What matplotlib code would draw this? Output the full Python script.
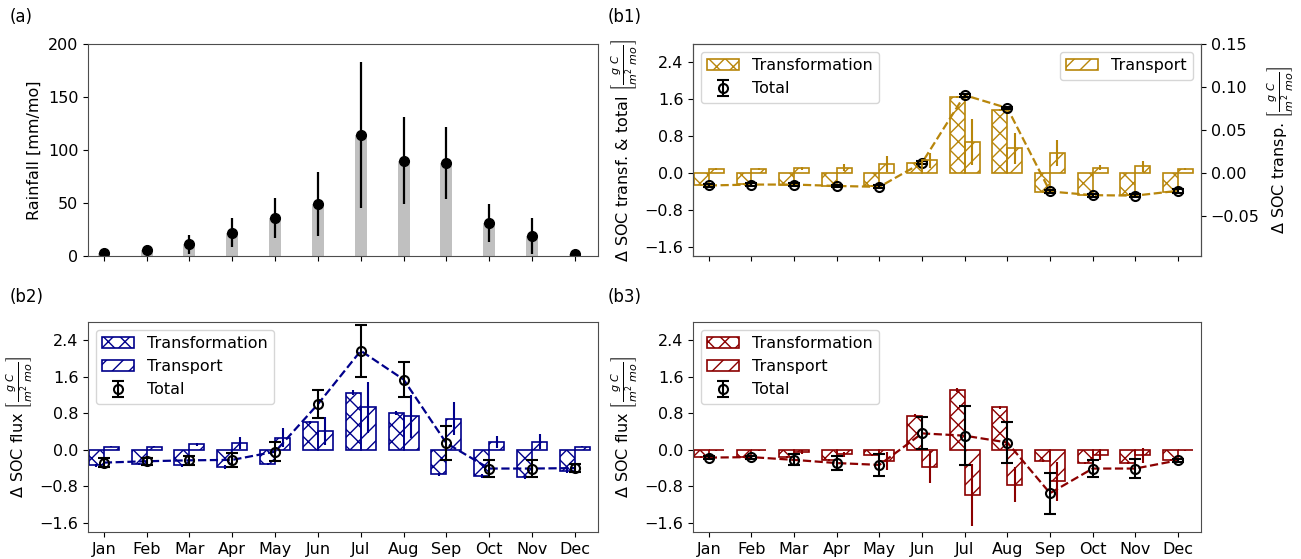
import numpy as np
import matplotlib
matplotlib.use("Agg")
import matplotlib.pyplot as plt

plt.rcParams['font.size'] = 11.5
plt.rcParams['axes.edgecolor'] = '0.3'

months = ["Jan", "Feb", "Mar", "Apr", "May", "Jun", "Jul", "Aug", "Sep", "Oct", "Nov", "Dec"]

# (a) rainfall, mean and std
rain_mean = [3, 6, 11, 22, 36, 49, 114, 90, 88, 31, 19, 2]
rain_std = [1, 4, 9, 13.5, 19, 30, 69, 41, 34, 18, 17, 1]

# (b1) left axis: transformation & total, right axis: transport
b1_transf = [-0.26, -0.24, -0.25, -0.28, -0.28, 0.22, 1.65, 1.37, -0.41, -0.48, -0.48, -0.41]
b1_transf_err = [0.02, 0.02, 0.02, 0.02, 0.02, 0.03, 0.03, 0.03, 0.02, 0.02, 0.02, 0.02]
b1_transp = [0.0047, 0.0043, 0.0054, 0.0062, 0.0105, 0.0147, 0.036, 0.029, 0.023, 0.0062, 0.0078, 0.0047]
b1_transp_err = [0.001, 0.001, 0.002, 0.004, 0.009, 0.009, 0.027, 0.018, 0.015, 0.003, 0.0065, 0.001]
b1_total = [-0.27, -0.25, -0.25, -0.28, -0.30, 0.225, 1.69, 1.41, -0.40, -0.48, -0.49, -0.385]
b1_total_err = [0.04, 0.04, 0.04, 0.03, 0.03, 0.03, 0.03, 0.03, 0.03, 0.03, 0.04, 0.04]

# (b2)
b2_transf = [-0.34, -0.31, -0.34, -0.38, -0.31, 0.60, 1.25, 0.81, -0.54, -0.58, -0.60, -0.46]
b2_transf_err = [0.04, 0.03, 0.04, 0.04, 0.03, 0.03, 0.05, 0.04, 0.04, 0.04, 0.04, 0.04]
b2_transp = [0.07, 0.065, 0.12, 0.15, 0.27, 0.41, 0.93, 0.74, 0.68, 0.17, 0.18, 0.07]
b2_transp_err = [0.01, 0.01, 0.04, 0.13, 0.2, 0.3, 0.56, 0.47, 0.36, 0.14, 0.16, 0.01]
b2_total = [-0.28, -0.25, -0.23, -0.22, -0.04, 1.00, 2.17, 1.54, 0.145, -0.41, -0.41, -0.40]
b2_total_err = [0.1, 0.08, 0.1, 0.15, 0.21, 0.3, 0.57, 0.39, 0.37, 0.18, 0.18, 0.09]

# (b3)
b3_transf = [-0.16, -0.16, -0.15, -0.22, -0.11, 0.75, 1.31, 0.93, -0.25, -0.29, -0.29, -0.22]
b3_transf_err = [0.02, 0.02, 0.02, 0.02, 0.02, 0.03, 0.04, 0.03, 0.02, 0.02, 0.02, 0.02]
b3_transp = [-0.01, -0.01, -0.05, -0.10, -0.24, -0.38, -0.99, -0.76, -0.69, -0.11, -0.12, -0.01]
b3_transp_err = [0.005, 0.005, 0.04, 0.05, 0.2, 0.35, 0.67, 0.39, 0.42, 0.12, 0.17, 0.005]
b3_total = [-0.17, -0.16, -0.22, -0.29, -0.33, 0.36, 0.31, 0.16, -0.95, -0.41, -0.41, -0.23]
b3_total_err = [0.04, 0.03, 0.12, 0.16, 0.24, 0.35, 0.65, 0.44, 0.45, 0.18, 0.2, 0.03]

x = np.arange(len(months))
w = 0.35
unit = r'$\left[\frac{g\ C}{m^2\ mo}\right]$'

W, H = 1301, 559
fig = plt.figure(figsize=(W / 100, H / 100), dpi=100)
ax_a = fig.add_axes([88 / W, 1 - 256 / H, 510 / W, 212 / H])
ax_b1 = fig.add_axes([693 / W, 1 - 256 / H, 508 / W, 212 / H])
ax_b2 = fig.add_axes([88 / W, 1 - 532 / H, 510 / W, 210 / H])
ax_b3 = fig.add_axes([693 / W, 1 - 532 / H, 508 / W, 210 / H])

xlim = (-0.37, 11.54)

# (a)
ax_a.bar(x, rain_mean, 0.28, color='#c0c0c0')
ax_a.errorbar(x, rain_mean, yerr=rain_std, fmt='o', color='black', ms=7, lw=1.6)
ax_a.set_ylim(0, 200)
ax_a.set_yticks([0, 50, 100, 150, 200])
ax_a.set_xlim(*xlim)
ax_a.set_xticks(x)
ax_a.set_xticklabels([])
ax_a.set_ylabel("Rainfall [mm/mo]")


def flux_panel(ax, transf, transf_err, transp, transp_err, total, total_err, c, ax_tp=None):
    h1 = ax.bar(x - w, transf, w, align='edge', fill=False, edgecolor=c, hatch='xx', lw=1.2,
                yerr=transf_err, error_kw=dict(ecolor=c, lw=1.5), label='Transformation')
    axt = ax_tp if ax_tp is not None else ax
    h2 = axt.bar(x, transp, w, align='edge', fill=False, edgecolor=c, hatch='//', lw=1.2,
                 yerr=transp_err, error_kw=dict(ecolor=c, lw=1.5), label='Transport')
    ax.plot(x, total, '--', color=c, lw=1.6, zorder=4)
    h3 = ax.errorbar(x, total, yerr=total_err, fmt='o', mfc='none', mec='black', mew=1.5,
                     ms=6.5, ecolor='black', elinewidth=1.5, capsize=4, capthick=1.5,
                     zorder=5, label='Total')
    ax.set_ylim(-1.8, 2.8)
    ax.set_yticks([-1.6, -0.8, 0.0, 0.8, 1.6, 2.4])
    ax.set_xlim(*xlim)
    ax.set_xticks(x)
    return h1, h2, h3


# (b1)
ax_b1t = ax_b1.twinx()
h1, h2, h3 = flux_panel(ax_b1, b1_transf, b1_transf_err, b1_transp, b1_transp_err,
                        b1_total, b1_total_err, 'darkgoldenrod', ax_tp=ax_b1t)
ax_b1t.set_ylim(-1.8 / 2.8 * 0.15, 0.15)
ax_b1t.set_yticks([-0.05, 0.0, 0.05, 0.10, 0.15])
ax_b1t.set_ylabel("Δ SOC transp. " + unit)
ax_b1.set_xticklabels([])
ax_b1.set_ylabel("Δ SOC transf. & total " + unit)
ax_b1.legend([h1, h3], ['Transformation', 'Total'], loc='upper left')
ax_b1t.legend([h2], ['Transport'], loc='upper right')

# (b2)
h1, h2, h3 = flux_panel(ax_b2, b2_transf, b2_transf_err, b2_transp, b2_transp_err,
                        b2_total, b2_total_err, 'darkblue')
ax_b2.set_xticklabels(months)
ax_b2.set_ylabel("Δ SOC flux " + unit)
ax_b2.legend([h1, h2, h3], ['Transformation', 'Transport', 'Total'], loc='upper left')

# (b3)
h1, h2, h3 = flux_panel(ax_b3, b3_transf, b3_transf_err, b3_transp, b3_transp_err,
                        b3_total, b3_total_err, 'darkred')
ax_b3.set_xticklabels(months)
ax_b3.set_ylabel("Δ SOC flux " + unit)
ax_b3.legend([h1, h2, h3], ['Transformation', 'Transport', 'Total'], loc='upper left')

fig.text(10 / W, 1 - 17 / H, "(a)", va='center', fontsize=12)
fig.text(608 / W, 1 - 17 / H, "(b1)", va='center', fontsize=12)
fig.text(10 / W, 1 - 297 / H, "(b2)", va='center', fontsize=12)
fig.text(608 / W, 1 - 297 / H, "(b3)", va='center', fontsize=12)

fig.savefig("out.png", dpi=100)
